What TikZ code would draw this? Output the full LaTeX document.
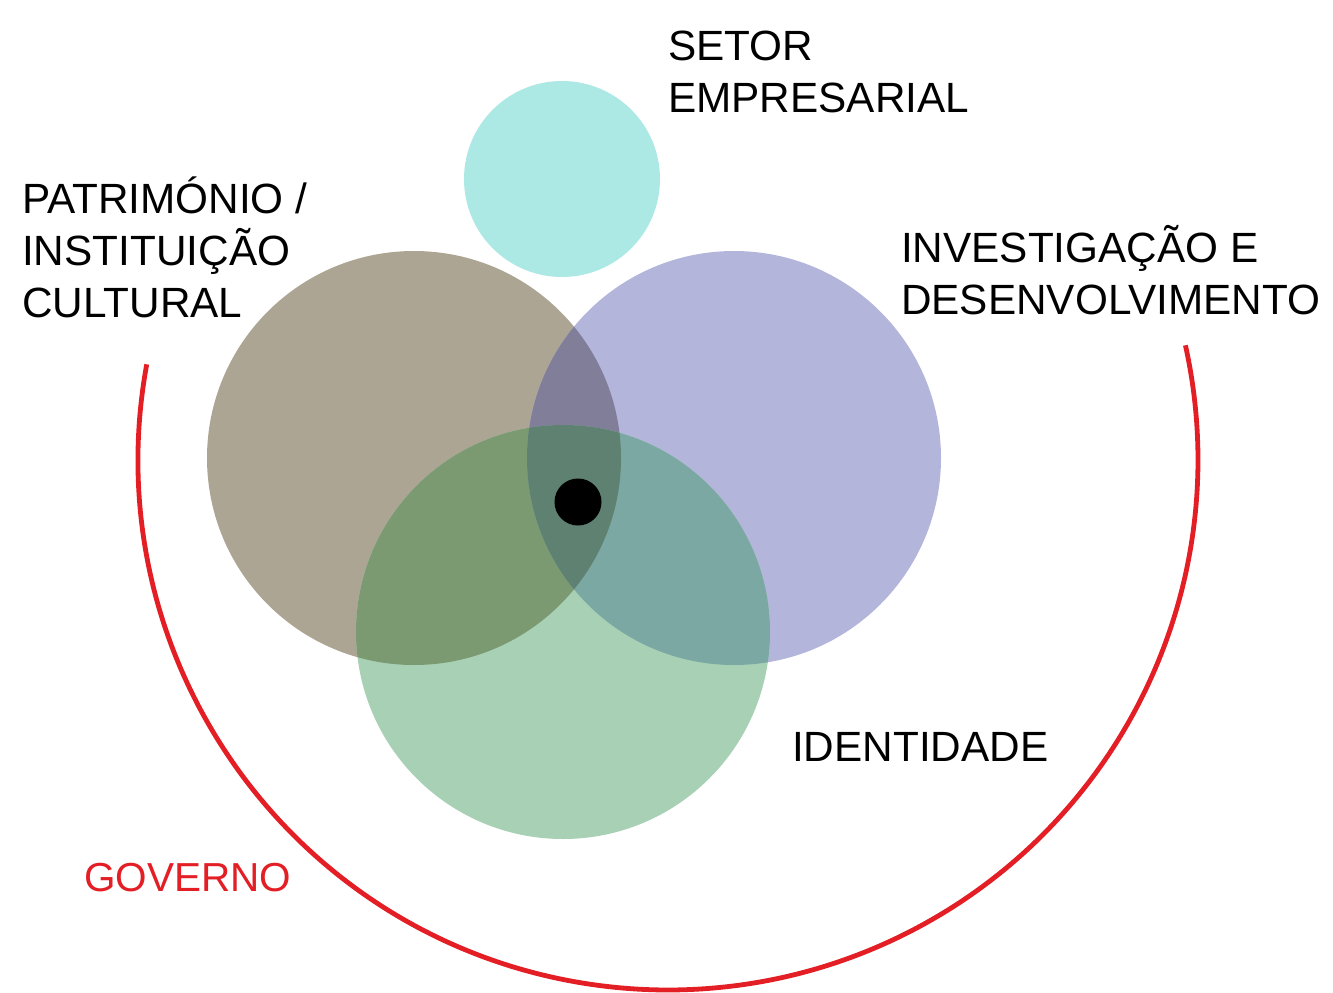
\documentclass[tikz,border=0pt]{standalone}
\usepackage{fontspec}
\setmainfont{Liberation Sans}
\definecolor{cCyan}{HTML}{ACE8E4}
\definecolor{cBrown}{HTML}{ADA594}
\definecolor{cPurple}{HTML}{B3B5DB}
\definecolor{cGreen}{HTML}{A8D0B5}
\definecolor{cBP}{HTML}{817E99}
\definecolor{cBG}{HTML}{7B9A72}
\definecolor{cPG}{HTML}{7CA8A4}
\definecolor{cBPG}{HTML}{5E8171}
\definecolor{cRed}{HTML}{E31E24}
\tikzset{
  bigcirc/.style={circle, inner sep=0pt, minimum size=414pt, fill=#1},
  label text/.style={anchor=base west, inner sep=0pt, align=left,
    font=\fontsize{42.3pt}{51.7pt}\selectfont},
}
\begin{document}
\begin{tikzpicture}[x=1pt, y=-1pt]
\useasboundingbox (0,0) rectangle (1333,993);
% red arc (government)
\draw[cRed, line width=4.8pt] (668,460) ++(169.6:530pt)
  arc[start angle=169.6, end angle=372.5, radius=530pt];
% circles
\node[circle, inner sep=0pt, minimum size=196pt, fill=cCyan] (setor) at (562,179) {};
\node[bigcirc=cBrown] (patr) at (414,458) {};
\node[bigcirc=cPurple] (invest) at (734,458) {};
\node[bigcirc=cGreen] (ident) at (563,632) {};
% overlaps
\begin{scope}
  \clip (patr.center) circle[radius=207pt];
  \fill[cBP] (invest.center) circle[radius=207pt];
  \fill[cBG] (ident.center) circle[radius=207pt];
\end{scope}
\begin{scope}
  \clip (invest.center) circle[radius=207pt];
  \fill[cPG] (ident.center) circle[radius=207pt];
\end{scope}
\begin{scope}
  \clip (patr.center) circle[radius=207pt];
  \clip (invest.center) circle[radius=207pt];
  \fill[cBPG] (ident.center) circle[radius=207pt];
\end{scope}
\node[circle, inner sep=0pt, minimum size=47pt, fill=black] (centro) at (578,502) {};
% labels (base anchor = baseline of the last line)
\node[label text] (tsetor) at (668,112) {SETOR\\EMPRESARIAL};
\node[label text] (tpatr) at (22,317) {PATRIMÓNIO /\\INSTITUIÇÃO\\CULTURAL};
\node[label text] (tinvest) at (901,314) {INVESTIGAÇÃO E\\DESENVOLVIMENTO};
\node[label text] (tident) at (792,761) {IDENTIDADE};
\node[label text, text=cRed, font=\fontsize{40.5pt}{48pt}\selectfont] (tgov) at (84,891) {GOVERNO};
\end{tikzpicture}
\end{document}
